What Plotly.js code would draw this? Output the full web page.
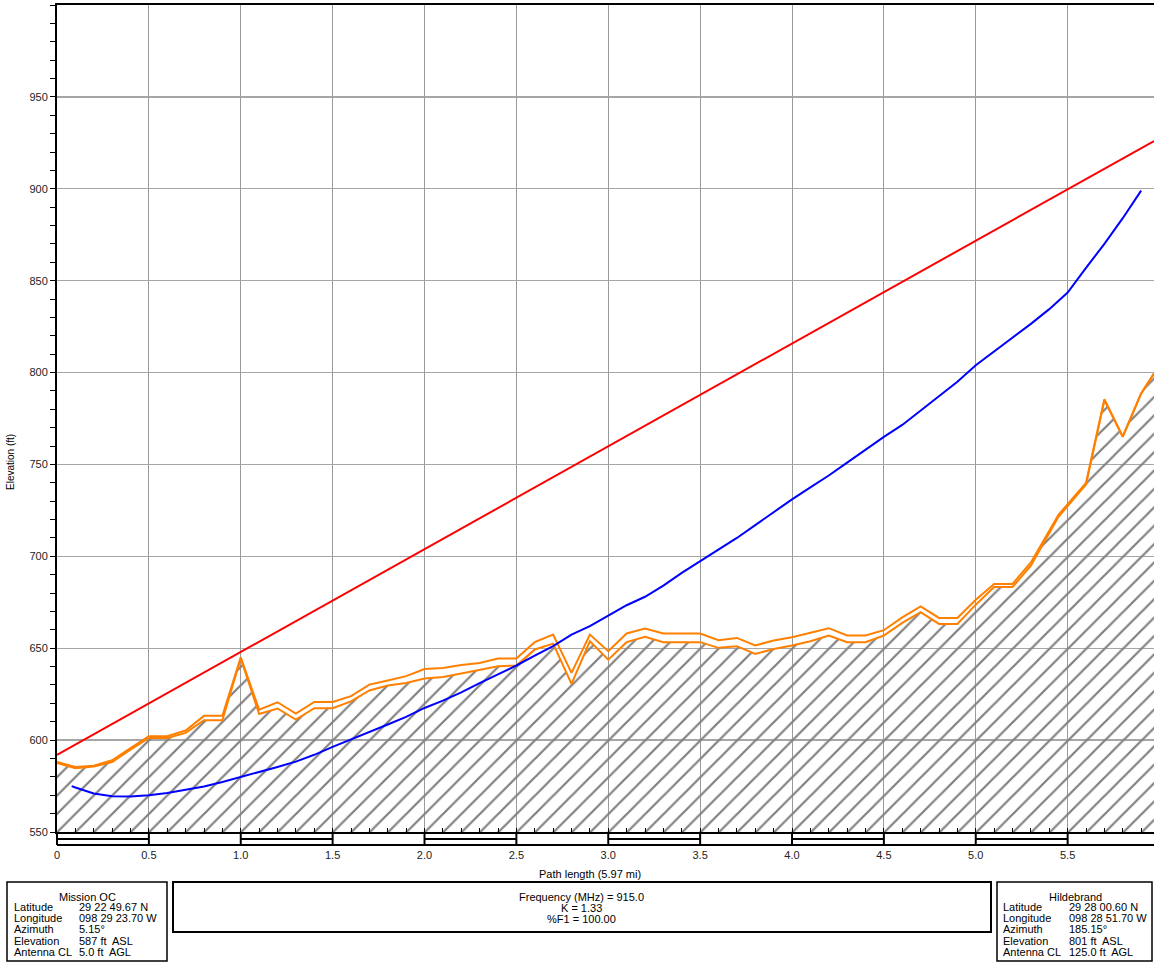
<!DOCTYPE html>
<html>
<head>
<meta charset="utf-8">
<script src="https://cdn.plot.ly/plotly-3.0.1.min.js"></script>
<style>
  html, body { margin: 0; padding: 0; background: #fff; }
  #chart { width: 1154px; height: 964px; }
</style>
</head>
<body>
<div id="chart"></div>
<script>
// ---------------- DATA ----------------
// Path distance (mi) of terrain samples
const terrainX = [0.0, 0.1, 0.2, 0.3, 0.4, 0.5, 0.6, 0.7, 0.8, 0.9,
                  1.0, 1.1, 1.2, 1.3, 1.4, 1.5, 1.6, 1.7, 1.8, 1.9,
                  2.0, 2.1, 2.2, 2.3, 2.4, 2.5, 2.6, 2.7, 2.8, 2.9,
                  3.0, 3.1, 3.2, 3.3, 3.4, 3.5, 3.6, 3.7, 3.8, 3.9,
                  4.0, 4.1, 4.2, 4.3, 4.4, 4.5, 4.6, 4.7, 4.8, 4.9,
                  5.0, 5.1, 5.2, 5.3, 5.45, 5.6, 5.7, 5.8, 5.9, 5.97];
// Ground elevation (ft) - top of hatched terrain
const terrainGround = [587.5, 584.7, 585.6, 588.1, 594.8, 601.2, 601.2, 603.9, 610.8, 610.8,
                       644.5, 614.2, 617.2, 611.2, 617.4, 617.4, 621.1, 627.0, 629.7, 631.1,
                       633.5, 634.4, 636.2, 638.4, 640.2, 640.6, 649.3, 652.5, 630.6, 653.8,
                       643.8, 653.3, 656.2, 653.3, 653.3, 653.3, 650.2, 651.1, 646.9, 649.6,
                       651.5, 653.8, 656.9, 653.3, 653.3, 656.9, 663.8, 669.6, 663.2, 663.2,
                       673.7, 683.3, 683.3, 694.9, 721.5, 739.0, 785.0, 765.0, 788.5, 799.3];
// Ground + clutter elevation (ft) - upper orange line
const terrainClutter = [588.1, 585.4, 586.1, 589.0, 595.7, 602.1, 602.1, 605.2, 613.2, 613.2,
                        645.0, 616.6, 620.6, 614.4, 620.8, 620.8, 623.9, 630.2, 632.4, 634.8,
                        638.7, 639.3, 640.9, 642.0, 644.4, 644.4, 653.3, 657.4, 636.6, 657.4,
                        648.4, 658.0, 660.7, 658.0, 658.0, 658.0, 654.4, 655.6, 651.5, 654.2,
                        656.0, 658.3, 660.9, 656.9, 656.9, 659.8, 666.8, 672.8, 666.5, 666.5,
                        676.4, 685.0, 685.0, 696.7, 722.6, 739.9, 785.5, 765.2, 788.8, 799.6];
// First Fresnel zone lower boundary (ft)
const fresnelX = [0.08, 0.1, 0.2, 0.3, 0.4, 0.5, 0.6, 0.7, 0.8, 0.9,
                  1.0, 1.1, 1.2, 1.3, 1.4, 1.5, 1.6, 1.7, 1.8, 1.9,
                  2.0, 2.1, 2.2, 2.3, 2.4, 2.5, 2.6, 2.7, 2.8, 2.9,
                  3.0, 3.1, 3.2, 3.3, 3.4, 3.5, 3.6, 3.7, 3.8, 3.9,
                  4.0, 4.1, 4.2, 4.3, 4.4, 4.5, 4.6, 4.7, 4.8, 4.9,
                  5.0, 5.1, 5.2, 5.3, 5.4, 5.5, 5.6, 5.7, 5.8, 5.9];
const fresnelY = [575.0, 574.2, 571.0, 569.4, 569.3, 570.0, 571.2, 572.8, 574.8, 577.2,
                  579.8, 582.5, 585.4, 588.3, 592.0, 596.3, 600.5, 604.6, 608.5, 612.6,
                  617.5, 621.5, 626.0, 631.0, 635.7, 640.6, 646.0, 651.1, 657.4, 662.0,
                  667.8, 673.4, 678.0, 684.1, 691.0, 697.4, 703.5, 710.0, 717.0, 724.0,
                  731.0, 737.5, 744.0, 751.0, 758.0, 765.0, 771.5, 779.5, 787.5, 795.0,
                  804.0, 811.5, 818.5, 826.5, 834.5, 843.5, 857.0, 870.0, 884.0, 899.0];
// Line of sight (antenna to antenna)
const losX = [0, 5.97];
const losY = [592, 926];

// Axis ticks
const xTickVals = [0, 0.5, 1.0, 1.5, 2.0, 2.5, 3.0, 3.5, 4.0, 4.5, 5.0, 5.5];
const xTickText = ['0', '0.5', '1.0', '1.5', '2.0', '2.5', '3.0', '3.5', '4.0', '4.5', '5.0', '5.5'];
const yTickVals = [550, 600, 650, 700, 750, 800, 850, 900, 950];
const pathLength = 5.97;

// Info boxes
const infoLabels = ['Latitude', 'Longitude', 'Azimuth', 'Elevation', 'Antenna CL'];
const siteAName = 'Mission OC';
const siteAValues = ['29 22 49.67 N', '098 29 23.70 W', '5.15°', '587 ft  ASL', '5.0 ft  AGL'];
const siteBName = 'Hildebrand';
const siteBValues = ['29 28 00.60 N', '098 28 51.70 W', '185.15°', '801 ft  ASL', '125.0 ft  AGL'];
const linkLines = ['Frequency (MHz) = 915.0', 'K = 1.33', '%F1 = 100.00'];

// ---------------- LAYOUT HELPERS ----------------
const W = 1154, H = 964;
const M = {l: 57, r: 0, t: 5, b: 132};
const PW = W - M.l - M.r, PH = H - M.t - M.b;
const px = x => (x - M.l) / PW;          // pixel -> paper x
const py = y => (H - M.b - y) / PH;      // pixel -> paper y
const FONT = 'Liberation Sans, Arial, Helvetica, sans-serif';
const ORANGE = '#ff8000';

const traces = [
  {
    x: terrainX, y: terrainGround, type: 'scatter', mode: 'lines',
    line: {color: ORANGE, width: 2},
    fill: 'tozeroy', fillcolor: 'rgba(0,0,0,0)',
    fillpattern: {shape: '/', size: 13, solidity: 0.17, fgcolor: '#808080',
                  bgcolor: 'rgba(0,0,0,0)', fillmode: 'replace'},
    hoverinfo: 'skip'
  },
  {
    x: terrainX, y: terrainClutter, type: 'scatter', mode: 'lines',
    line: {color: ORANGE, width: 2}, hoverinfo: 'skip'
  },
  {
    x: fresnelX, y: fresnelY, type: 'scatter', mode: 'lines',
    line: {color: '#0000ff', width: 2}, hoverinfo: 'skip'
  },
  {
    x: losX, y: losY, type: 'scatter', mode: 'lines',
    line: {color: '#ff0000', width: 2}, hoverinfo: 'skip'
  }
];

// ---------------- SHAPES ----------------
const shapes = [];
const stripMid = py(839), stripBot = py(845);
shapes.push({type: 'line', xref: 'paper', yref: 'paper', x0: 0, x1: 1, y0: stripBot, y1: stripBot,
             line: {color: '#000', width: 2}});
xTickVals.forEach((v, i) => {
  const xa = v / pathLength;
  shapes.push({type: 'line', xref: 'paper', yref: 'paper', x0: xa, x1: xa, y0: 0, y1: stripBot,
               line: {color: '#000', width: 2}});
  if (i % 2 === 0) {
    const next = i + 1 < xTickVals.length ? xTickVals[i + 1] : pathLength;
    shapes.push({type: 'line', xref: 'paper', yref: 'paper', x0: xa, x1: next / pathLength,
                 y0: stripMid, y1: stripMid, line: {color: '#000', width: 2}});
  }
});
shapes.push({type: 'rect', xref: 'paper', yref: 'paper', x0: px(7), x1: px(167), y0: py(961), y1: py(882),
             line: {color: '#000', width: 1.5}, fillcolor: 'rgba(0,0,0,0)'});
shapes.push({type: 'rect', xref: 'paper', yref: 'paper', x0: px(173), x1: px(991), y0: py(932), y1: py(882),
             line: {color: '#000', width: 2}, fillcolor: 'rgba(0,0,0,0)'});
shapes.push({type: 'rect', xref: 'paper', yref: 'paper', x0: px(997), x1: px(1152), y0: py(961), y1: py(882),
             line: {color: '#000', width: 1.5}, fillcolor: 'rgba(0,0,0,0)'});

// ---------------- ANNOTATIONS ----------------
const ann = [];
const txt = (text, x, y, anchor, size) => ann.push({
  text: text, xref: 'paper', yref: 'paper', x: px(x), y: py(y),
  xanchor: anchor, yanchor: 'middle', showarrow: false,
  font: {family: FONT, size: size || 11, color: '#000'}
});
const rowY = [907, 918, 929, 941, 952];
txt(siteAName, 87, 897, 'center');
txt(siteBName, 1075, 897, 'center');
infoLabels.forEach((lab, i) => {
  txt(lab, 12, rowY[i], 'left');
  txt(siteAValues[i], 77, rowY[i], 'left');
  txt(lab, 1001, rowY[i], 'left');
  txt(siteBValues[i], 1067, rowY[i], 'left');
});
const linkY = [897, 908, 919];
linkLines.forEach((l, i) => txt(l, 581, linkY[i], 'center'));
txt('Path length (' + pathLength.toFixed(2) + ' mi)', 590, 874, 'center');
ann.push({text: 'Elevation (ft)', xref: 'paper', yref: 'paper', x: px(10), y: py(462),
          xanchor: 'center', yanchor: 'middle', textangle: -90, showarrow: false,
          font: {family: FONT, size: 10, color: '#000'}});

const layout = {
  width: W, height: H,
  margin: M,
  paper_bgcolor: '#fff', plot_bgcolor: '#fff',
  showlegend: false,
  xaxis: {
    range: [0, pathLength], tickmode: 'array', tickvals: xTickVals, ticktext: xTickText,
    ticks: 'inside', ticklen: 4, tickcolor: '#000', tickwidth: 1,
    minor: {tickmode: 'linear', tick0: 0, dtick: 0.1, ticks: 'inside', ticklen: 4,
            tickcolor: '#000', tickwidth: 1, showgrid: false},
    showgrid: true, gridcolor: '#9a9a9a', gridwidth: 1,
    showline: true, linecolor: '#000', linewidth: 2, mirror: true,
    zeroline: false, ticklabelstandoff: 12,
    tickfont: {family: FONT, size: 11, color: '#222'}
  },
  yaxis: {
    range: [550, 1000], tickmode: 'array', tickvals: yTickVals,
    ticks: 'outside', ticklen: 5, tickcolor: '#000', tickwidth: 1,
    minor: {tickmode: 'linear', tick0: 550, dtick: 10, ticks: 'outside', ticklen: 5,
            tickcolor: '#000', tickwidth: 1, showgrid: false},
    showgrid: true, gridcolor: '#a6a6a6', gridwidth: 1.3,
    showline: true, linecolor: '#000', linewidth: 2,
    zeroline: false,
    tickfont: {family: FONT, size: 11, color: '#222'}
  },
  shapes: shapes,
  annotations: ann
};

Plotly.newPlot('chart', traces, layout, {displayModeBar: false, staticPlot: true});
</script>
</body>
</html>
